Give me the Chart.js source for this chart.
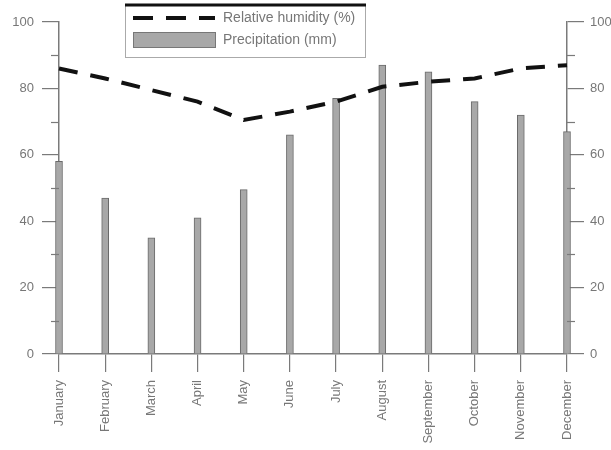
<!DOCTYPE html>
<html>
<head>
<meta charset="utf-8">
<script src="https://cdn.jsdelivr.net/npm/chart.js@4/dist/chart.umd.min.js"></script>
<style>
  body { margin: 0; background: #fff; }
  #wrap { width: 611px; height: 450px; }
</style>
</head>
<body>
<div id="wrap"><canvas id="climateChart" width="611" height="450"></canvas></div>
<script>
const months = ['January', 'February', 'March', 'April', 'May', 'June', 'July',
  'August', 'September', 'October', 'November', 'December'];
const humidity = [86, 83, 79.5, 76, 70.5, 73, 76, 80.5, 82, 83, 86, 87];
const precipitation = [58, 47, 35, 41, 49.5, 66, 77, 87, 85, 76, 72, 67];
const yTicks = [0, 20, 40, 60, 80, 100];
const minorTicks = [10, 30, 50, 70, 90];

const FONT = "'Liberation Sans', Arial, sans-serif";
const AXIS = '#7a7a7a';
const TEXT = '#777';

// minor ticks on both value axes + the boxed legend at the top
const extras = {
  id: 'extras',
  afterDraw(chart) {
    const ctx = chart.ctx;
    ctx.save();
    ctx.strokeStyle = AXIS;
    ctx.lineWidth = 1.2;
    ['y', 'y2'].forEach(id => {
      const s = chart.scales[id];
      const x = id === 'y' ? s.right : s.left;
      const dir = id === 'y' ? -1 : 1;
      minorTicks.forEach(v => {
        const py = Math.round(s.getPixelForValue(v)) + 0.5;
        ctx.beginPath();
        ctx.moveTo(x, py);
        ctx.lineTo(x + dir * 8, py);
        ctx.stroke();
      });
    });

    // legend
    const lx = 125, ly = 5, lw = 240, lh = 52;
    ctx.fillStyle = '#fff';
    ctx.fillRect(lx, ly, lw, lh);
    ctx.strokeStyle = '#aaa';
    ctx.lineWidth = 1;
    ctx.strokeRect(lx + 0.5, ly + 0.5, lw, lh);
    ctx.strokeStyle = '#111';
    ctx.lineWidth = 3;
    ctx.beginPath();
    ctx.moveTo(lx, ly);
    ctx.lineTo(lx + lw + 1, ly);
    ctx.stroke();

    ctx.lineWidth = 4;
    ctx.setLineDash([20, 13]);
    ctx.beginPath();
    ctx.moveTo(133, 18);
    ctx.lineTo(215, 18);
    ctx.stroke();
    ctx.setLineDash([]);

    ctx.fillStyle = '#a8a8a8';
    ctx.fillRect(133, 32, 82, 15);
    ctx.strokeStyle = '#777';
    ctx.lineWidth = 1;
    ctx.strokeRect(133.5, 32.5, 82, 15);

    ctx.fillStyle = TEXT;
    ctx.font = '14px ' + FONT;
    ctx.textBaseline = 'middle';
    ctx.fillText('Relative humidity (%)', 223, 18);
    ctx.fillText('Precipitation (mm)', 223, 40);
    ctx.restore();
  }
};

const ctx = document.getElementById('climateChart').getContext('2d');
const climateChart = new Chart(ctx, {
  type: 'bar',
  data: {
    labels: months,
    datasets: [{
      type: 'line',
      label: 'Relative humidity (%)',
      data: humidity,
      borderColor: '#111',
      borderWidth: 4,
      borderDash: [19, 13],
      pointRadius: 0,
      fill: false,
      tension: 0,
      order: 0,
      yAxisID: 'y'
    },
    {
      label: 'Precipitation (mm)',
      data: precipitation,
      backgroundColor: '#a8a8a8',
      borderColor: '#6a6a6a',
      borderWidth: 1,
      barThickness: 7,
      clip: false,
      order: 1,
      yAxisID: 'y'
    }]
  },
  options: {
    responsive: false,
    animation: false,
    layout: { padding: { top: 22, left: 0, right: 0, bottom: 0 } },
    plugins: {
      legend: { display: false },
      tooltip: { enabled: false }
    },
    scales: {
      x: {
        offset: false,
        grid: { offset: false, drawOnChartArea: false, tickLength: 18, color: AXIS, lineWidth: 1.2 },
        border: { color: AXIS, width: 1.5 },
        ticks: {
          minRotation: 90, maxRotation: 90, padding: 8,
          color: TEXT, font: { family: FONT, size: 13 }
        },
        afterFit(scale) { scale.height = 96; }
      },
      y: {
        position: 'left',
        min: 0, max: 100,
        afterBuildTicks(scale) { scale.ticks = yTicks.map(v => ({ value: v })); },
        grid: { drawOnChartArea: false, tickLength: 17, color: AXIS, lineWidth: 1.2 },
        border: { color: AXIS, width: 1.5 },
        ticks: { padding: 8, color: TEXT, font: { family: FONT, size: 13 } },
        afterFit(scale) { scale.width = 59; }
      },
      y2: {
        position: 'right',
        min: 0, max: 100,
        afterBuildTicks(scale) { scale.ticks = yTicks.map(v => ({ value: v })); },
        grid: { drawOnChartArea: false, tickLength: 17, color: AXIS, lineWidth: 1.2 },
        border: { color: AXIS, width: 1.5 },
        ticks: { padding: 6, color: TEXT, font: { family: FONT, size: 13 } },
        afterFit(scale) { scale.width = 44; }
      }
    }
  },
  plugins: [extras]
});
</script>
</body>
</html>
